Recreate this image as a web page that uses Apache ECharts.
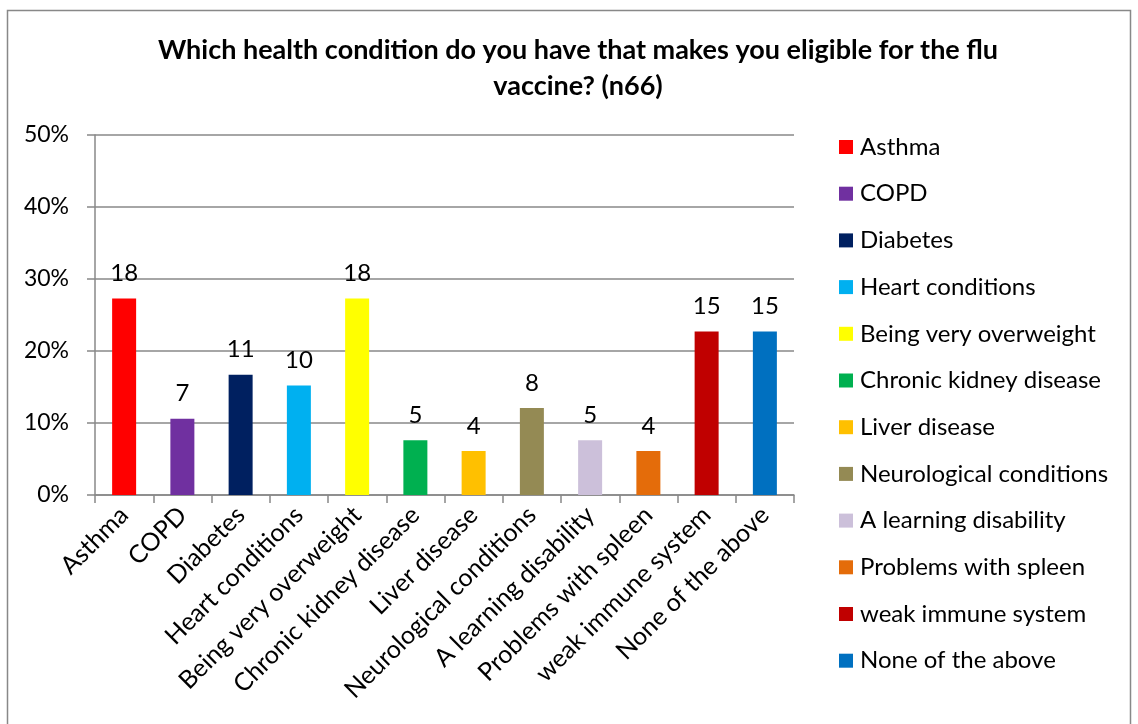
<!DOCTYPE html>
<html>
<head>
<meta charset="utf-8">
<script src="https://cdn.jsdelivr.net/npm/echarts@6/dist/echarts.min.js"></script>
<style>
html,body{margin:0;padding:0;background:#fff;}
#chart{width:1138px;height:724px;}
</style>
</head>
<body>
<div id="chart"></div>
<script>
var categories = ["Asthma","COPD","Diabetes","Heart conditions","Being very overweight","Chronic kidney disease","Liver disease","Neurological conditions","A learning disability","Problems with spleen","weak immune system","None of the above"];
var percentValues = [27.3, 10.6, 16.7, 15.2, 27.3, 7.6, 6.1, 12.1, 7.6, 6.1, 22.7, 22.7];
var countLabels = [18, 7, 11, 10, 18, 5, 4, 8, 5, 4, 15, 15];
var colors = ["#FF0000","#7030A0","#002060","#00B0F0","#FFFF00","#00B050","#FFC000","#948A54","#CCC0DA","#E46C0A","#C00000","#0070C0"];
var yTicks = [0, 10, 20, 30, 40, 50];

var FONT = 'Lato';
var series = categories.map(function (name, i) {
  var d = categories.map(function (c, j) { return j === i ? percentValues[i] : null; });
  return {
    name: name,
    type: 'bar',
    stack: 'all',
    barWidth: 24,
    itemStyle: { color: colors[i] },
    data: d,
    label: {
      show: true,
      position: 'top',
      distance: 13,
      color: '#000',
      fontFamily: FONT,
      fontSize: 24,
      formatter: function () { return String(countLabels[i]); }
    }
  };
});

var chart = echarts.init(document.getElementById('chart'), null, { renderer: 'canvas' });
chart.setOption({
  animation: false,
  backgroundColor: '#fff',
  title: {
    text: 'Which health condition do you have that makes you eligible for the flu\nvaccine? (n66)',
    left: 573,
    top: 27,
    textAlign: 'center',
    textStyle: { fontFamily: FONT, fontWeight: 'bold', fontSize: 27, color: '#000', lineHeight: 36 }
  },
  graphic: [{
    type: 'rect',
    shape: { x: 7.5, y: 10.5, width: 1123, height: 720 },
    style: { fill: null, stroke: '#888', lineWidth: 1.5 },
    silent: true
  }],
  legend: {
    orient: 'vertical',
    left: 834,
    top: 130,
    itemWidth: 14,
    itemHeight: 14,
    itemGap: 22.7,
    icon: 'rect',
    textStyle: { fontFamily: FONT, fontSize: 24, color: '#000', padding: [0, 0, 0, 2] },
    data: categories
  },
  grid: { left: 95, right: 344, top: 135, bottom: 229 },
  xAxis: {
    type: 'category',
    data: categories,
    boundaryGap: true,
    axisLine: { lineStyle: { color: '#888', width: 1.5 } },
    axisTick: { show: true, length: 8, alignWithLabel: false, lineStyle: { color: '#888', width: 1.5 } },
    axisLabel: { rotate: 45, interval: 0, margin: 16, color: '#000', fontFamily: FONT, fontSize: 25 }
  },
  yAxis: {
    type: 'value',
    min: yTicks[0],
    max: yTicks[yTicks.length - 1],
    interval: 10,
    axisLine: { show: true, lineStyle: { color: '#888', width: 1.5 } },
    axisTick: { show: true, length: 8, lineStyle: { color: '#888', width: 1.5 } },
    splitLine: { lineStyle: { color: '#888', width: 1.5 } },
    axisLabel: { margin: 26, color: '#000', fontFamily: FONT, fontSize: 23, formatter: function (v) { return v + '%'; } }
  },
  series: series
});
</script>
</body>
</html>
